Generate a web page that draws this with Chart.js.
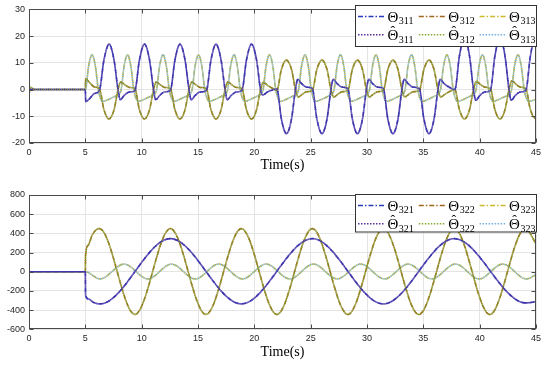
<!DOCTYPE html>
<html>
<head>
<meta charset="utf-8">
<script src="https://cdn.jsdelivr.net/npm/chart.js@4.4.1/dist/chart.umd.min.js"></script>
<style>
  html, body { margin: 0; padding: 0; background: #fff; }
  #wrap { position: relative; width: 550px; height: 366px; }
  .panel { position: absolute; left: 0; width: 550px; }
</style>
</head>
<body>
<div id="wrap">
  <div class="panel" style="top:0;height:176px"><canvas id="c1" width="550" height="176"></canvas></div>
  <div class="panel" style="top:185px;height:181px"><canvas id="c2" width="550" height="181"></canvas></div>
</div>
<script>
// Axis settings
const X_MIN = 0, X_MAX = 45, X_STEP = 5;
const Y1_MIN = -20, Y1_MAX = 30, Y1_STEP = 10;
const Y2_MIN = -600, Y2_MAX = 800, Y2_STEP = 200;
const X_TITLE = "Time(s)";

const SUBS_TOP = ["311", "312", "313"];
const SUBS_BOT = ["321", "322", "323"];

// [time, value] pairs (estimates overlap the true values)
const TH311 = [
  [0,0],[5,0],[5.03,-4.5],[5.4,-3.3],[5.8,-1.5],[6.25,-0.3],
  [6.65,11],[7.1,17],[7.55,11],[7.9,0],[8.1,-3.8],[8.45,-2.2],[8.9,-0.9],[9.4,-0.3],
  [9.8,11],[10.25,17],[10.7,11],[11.05,0],[11.25,-3.8],[11.6,-2.2],[12.05,-0.9],[12.55,-0.3],
  [12.95,11],[13.4,17],[13.85,11],[14.2,0],[14.4,-3.8],[14.75,-2.2],[15.2,-0.9],[15.75,-0.3],
  [16.15,11],[16.6,17],[17.05,11],[17.4,0],[17.6,-3.8],[17.95,-2.2],[18.4,-0.9],[18.9,-0.3],
  [19.3,11],[19.75,17],[20.2,11],[20.55,0],[20.75,-2],[21.2,-0.8],[21.6,-0.2],[22.0,0.3],
  [22.4,-11],[22.85,-16.5],[23.3,-11],[23.65,0],[23.85,3.8],[24.2,2.2],[24.65,0.9],[25.15,0.3],
  [25.55,-11],[26.0,-16.5],[26.45,-11],[26.8,0],[27.0,3.8],[27.35,2.2],[27.8,0.9],[28.3,0.3],
  [28.7,-11],[29.15,-16.5],[29.6,-11],[29.95,0],[30.15,3.8],[30.5,2.2],[30.95,0.9],[31.45,0.3],
  [31.85,-11],[32.3,-16.5],[32.75,-11],[33.1,0],[33.3,3.8],[33.65,2.2],[34.1,0.9],[34.65,0.3],
  [35.05,-11],[35.5,-16.5],[35.95,-11],[36.3,0],[36.5,3.8],[36.85,2.2],[37.3,0.9],[37.8,0],
  [38.2,12.5],[38.65,19.5],[39.1,12.5],[39.45,0],[39.65,-4],[40.0,-2.3],[40.45,-0.9],[40.95,-0.3],
  [41.35,12.5],[41.8,19.5],[42.25,12.5],[42.6,0],[42.8,-4],[43.15,-2.3],[43.6,-0.9],[44.1,-0.3],
  [44.5,12.5],[44.95,19.5],[45,19.4]
];
const TH312 = [
  [0,-1.5],[0.15,0.8],[0.5,0],[5,0],[5.03,4],[5.4,2.5],[5.8,1.0],[6.25,0.3],
  [6.65,-7.5],[7.1,-11],[7.55,-7.5],[7.9,0],[8.15,2.8],[8.5,1.8],[8.9,0.8],[9.4,0.3],
  [9.8,-7.5],[10.25,-11],[10.7,-7.5],[11.05,0],[11.3,2.8],[11.65,1.8],[12.05,0.8],[12.55,0.3],
  [12.95,-7.5],[13.4,-11],[13.85,-7.5],[14.2,0],[14.45,2.8],[14.8,1.8],[15.2,0.8],[15.75,0.3],
  [16.15,-7.5],[16.6,-11],[17.05,-7.5],[17.4,0],[17.65,2.8],[18.0,1.8],[18.4,0.8],[18.9,0.3],
  [19.3,-7.5],[19.75,-11],[20.2,-7.5],[20.55,0],[20.8,2.7],[21.2,1.5],[21.6,0.5],[22.0,-0.3],
  [22.4,7.5],[22.85,11],[23.3,7.5],[23.65,0],[23.9,-2.8],[24.25,-1.8],[24.65,-0.8],[25.15,-0.3],
  [25.55,7.5],[26.0,11],[26.45,7.5],[26.8,0],[27.05,-2.8],[27.4,-1.8],[27.8,-0.8],[28.3,-0.3],
  [28.7,7.5],[29.15,11],[29.6,7.5],[29.95,0],[30.2,-2.8],[30.55,-1.8],[30.95,-0.8],[31.45,-0.3],
  [31.85,7.5],[32.3,11],[32.75,7.5],[33.1,0],[33.35,-2.8],[33.7,-1.8],[34.1,-0.8],[34.65,-0.3],
  [35.05,7.5],[35.5,11],[35.95,7.5],[36.3,0],[36.55,-2.8],[36.9,-1.8],[37.3,-0.8],[37.8,0],
  [38.2,-7.5],[38.65,-11],[39.1,-7.5],[39.45,0],[39.7,3],[40.05,2],[40.45,0.9],[40.95,0.3],
  [41.35,-7.5],[41.8,-11],[42.25,-7.5],[42.6,0],[42.85,3.3],[43.2,2.1],[43.6,0.9],[44.1,0.3],
  [44.5,-7.5],[44.95,-10.8],[45,-10.7]
];
const TH313 = [
  [0,0],[5,0],[5.3,9],[5.6,13],[5.9,8.5],[6.15,0],[6.55,-4.4],[7.1,-3.6],[7.65,-2.5],[8.15,-0.5],
  [8.45,9],[8.75,13],[9.05,8.5],[9.3,0],[9.7,-4.4],[10.25,-3.6],[10.8,-2.5],[11.3,-0.5],
  [11.6,9],[11.9,13],[12.2,8.5],[12.45,0],[12.85,-4.4],[13.4,-3.6],[13.95,-2.5],[14.45,-0.5],
  [14.75,9],[15.05,13],[15.35,8.5],[15.6,0],[16.0,-4.4],[16.55,-3.6],[17.1,-2.5],[17.6,-0.5],
  [17.9,9],[18.2,13],[18.5,8.5],[18.75,0],[19.15,-4.4],[19.7,-3.6],[20.25,-2.5],[20.75,-0.5],
  [21.05,9],[21.35,13],[21.65,8.5],[21.9,0],[22.3,-4.4],[22.85,-3.6],[23.4,-2.5],[23.9,-0.5],
  [24.2,9],[24.5,13],[24.8,8.5],[25.05,0],[25.45,-4.4],[26.0,-3.6],[26.55,-2.5],[27.05,-0.5],
  [27.35,9],[27.65,13],[27.95,8.5],[28.2,0],[28.6,-4.4],[29.15,-3.6],[29.7,-2.5],[30.2,-0.5],
  [30.5,9],[30.8,13],[31.1,8.5],[31.35,0],[31.75,-4.4],[32.3,-3.6],[32.85,-2.5],[33.35,-0.5],
  [33.65,9],[33.95,13],[34.25,8.5],[34.5,0],[34.9,-4.4],[35.45,-3.6],[36.0,-2.5],[36.5,-0.5],
  [36.8,9],[37.1,13],[37.4,8.5],[37.65,0],[38.05,-4.4],[38.6,-3.6],[39.15,-2.5],[39.65,-0.5],
  [39.95,9],[40.25,13],[40.55,8.5],[40.8,0],[41.2,-4.4],[41.75,-3.6],[42.3,-2.5],[42.8,-0.5],
  [43.1,9],[43.4,13],[43.7,8.5],[43.95,0],[44.35,-4.4],[45,-3.7]
];

// bottom panel: extrema of each curve
const TH321 = [
  [0,0],[5,0],[5.02,-245],[5.3,-285],[5.7,-318],[6.3,-335],[12.55,345],[18.85,-335],
  [25.15,345],[31.45,-335],[37.75,345],[44.1,-325],[45,-312]
];
const TH322 = [
  [0,0],[5,0],[5.02,170],[5.25,275],[5.6,380],[5.95,435],[6.25,450],[9.4,-445],
  [12.55,450],[15.7,-445],[18.85,450],[22.0,-445],[25.15,450],[28.3,-445],[31.45,450],
  [34.6,-445],[37.75,450],[40.9,-445],[44.05,450],[45,295]
];
const TH323 = [
  [0,0],[5,0],[6.3,-75],[8.45,80],[10.55,-75],[12.65,80],[14.75,-75],[16.85,80],
  [18.95,-75],[21.05,80],[23.15,-75],[25.25,80],[27.35,-75],[29.45,80],[31.55,-75],
  [33.65,80],[35.75,-75],[37.85,80],[39.95,-75],[42.05,80],[44.15,-75],[45,-30]
];

const COL_THETA = ["#2a3cbc", "#a0661c", "#cbbb2c"];
const COL_HAT   = ["#58309c", "#84aa30", "#74b2e6"];

// plotted curves: the dots of the estimate fill the gaps of the dash-dot line
const LINE = {
  borderWidth: 1.6,
  pointRadius: 0,
  pointHoverRadius: 0,
  cubicInterpolationMode: "monotone",
  fill: false,
};

const toXY = pairs => pairs.map(p => ({ x: p[0], y: p[1] }));

function makeDatasets(subs, series) {
  const out = [];
  subs.forEach((s, i) => out.push({
    label: "Θ" + s, sym: "Θ", sub: s, hat: false, data: toXY(series[i]),
    borderColor: COL_THETA[i], borderDash: [5, 1, 1, 1], legendDash: [5, 2, 1.5, 2],
    order: 1, ...LINE,
  }));
  subs.forEach((s, i) => out.push({
    label: "Θ\u0302" + s, sym: "Θ", sub: s, hat: true, data: toXY(series[i]),
    borderColor: COL_HAT[i], borderDash: [1, 1], borderDashOffset: 1, legendDash: [1.5, 1.5],
    order: 0, ...LINE,
  }));
  return out;
}

// frame, inward ticks and the boxed legend inside the axes
const frameLegend = {
  id: "frameLegend",
  afterDraw(chart, args, opts) {
    const { ctx, chartArea: a, scales: { x, y } } = chart;
    const L = Math.round(a.left) + 0.5, R = Math.round(a.right) - 0.5;
    const T = Math.round(a.top) + 0.5, B = Math.round(a.bottom) - 0.5;
    ctx.save();
    ctx.strokeStyle = "#4a4a4a";
    ctx.lineWidth = 1;
    ctx.strokeRect(L, T, R - L, B - T);
    ctx.beginPath();
    x.ticks.forEach(t => {
      const px = Math.round(x.getPixelForValue(t.value)) + 0.5;
      ctx.moveTo(px, B); ctx.lineTo(px, B - 4);
      ctx.moveTo(px, T); ctx.lineTo(px, T + 4);
    });
    y.ticks.forEach(t => {
      const py = Math.round(y.getPixelForValue(t.value)) + 0.5;
      ctx.moveTo(L, py); ctx.lineTo(L + 4, py);
      ctx.moveTo(R, py); ctx.lineTo(R - 4, py);
    });
    ctx.stroke();

    // legend
    const bw = 181, bh = opts.h;
    const bx = Math.round(a.right) - bw + 0.5, by = Math.round(a.top + opts.dy) + 0.5;
    ctx.fillStyle = "#fff";
    ctx.fillRect(bx, by, bw, bh);
    ctx.strokeStyle = "#333";
    ctx.strokeRect(bx, by, bw, bh);
    chart.data.datasets.forEach((d, i) => {
      const col = i % 3, row = Math.floor(i / 3);
      const x0 = bx + 2.5 + col * 60.8;
      const yc = by + opts.rows[row];
      ctx.strokeStyle = d.borderColor;
      ctx.lineWidth = 1.4;
      ctx.setLineDash(d.legendDash);
      ctx.beginPath();
      ctx.moveTo(x0, yc); ctx.lineTo(x0 + 26.5, yc);
      ctx.stroke();
      ctx.setLineDash([]);
      const tx = x0 + 29.5;
      ctx.fillStyle = "#000";
      ctx.textAlign = "left";
      ctx.textBaseline = "alphabetic";
      ctx.font = '15px "Liberation Serif"';
      ctx.fillText(d.sym, tx, yc + 5);
      const w = ctx.measureText(d.sym).width;
      if (d.hat) {
        ctx.textAlign = "center";
        ctx.font = '14px "Liberation Serif"';
        ctx.fillText("\u02C6", tx + w / 2, yc + 1);
        ctx.textAlign = "left";
      }
      ctx.font = '10px "Liberation Serif"';
      ctx.fillText(d.sub, tx + w + 0.5, yc + 7.7);
    });
    ctx.restore();
  },
};

Chart.defaults.font.family = '"Liberation Sans", Arial, sans-serif';
Chart.defaults.font.size = 9;
Chart.defaults.color = "#262626";

function makeChart(id, subs, series, yMin, yMax, yStep, cfg) {
  return new Chart(document.getElementById(id), {
    type: "line",
    data: { datasets: makeDatasets(subs, series) },
    options: {
      responsive: false,
      animation: false,
      events: [],
      layout: { padding: { top: cfg.top, right: 14, bottom: 0, left: 0 } },
      plugins: {
        legend: { display: false },
        tooltip: { enabled: false },
        frameLegend: cfg.legend,
      },
      scales: {
        x: {
          type: "linear",
          min: X_MIN, max: X_MAX,
          ticks: { stepSize: X_STEP, padding: 4, maxRotation: 0, autoSkip: false },
          grid: { color: "#e4e4e4", drawTicks: false },
          border: { display: false },
          title: {
            display: true, text: X_TITLE, color: "#000",
            font: { family: '"Liberation Serif", serif', size: 14 },
            padding: { top: 0, bottom: cfg.titlePad },
          },
          afterFit: s => { s.height = cfg.xh; },
        },
        y: {
          min: yMin, max: yMax,
          ticks: { stepSize: yStep, padding: 4 },
          grid: { color: "#e4e4e4", drawTicks: false },
          border: { display: false },
          afterFit: s => { s.width = 29; },
        },
      },
    },
    plugins: [frameLegend],
  });
}

makeChart("c1", SUBS_TOP, [TH311, TH312, TH313], Y1_MIN, Y1_MAX, Y1_STEP, {
  top: 8.5, xh: 33, titlePad: 2.6,
  legend: { dy: -4.5, h: 41, rows: [11, 29.3] },
});
makeChart("c2", SUBS_BOT, [TH321, TH322, TH323], Y2_MIN, Y2_MAX, Y2_STEP, {
  top: 10, xh: 36.7, titlePad: 5.6,
  legend: { dy: -1, h: 37.5, rows: [11, 29.3] },
});
</script>
</body>
</html>
